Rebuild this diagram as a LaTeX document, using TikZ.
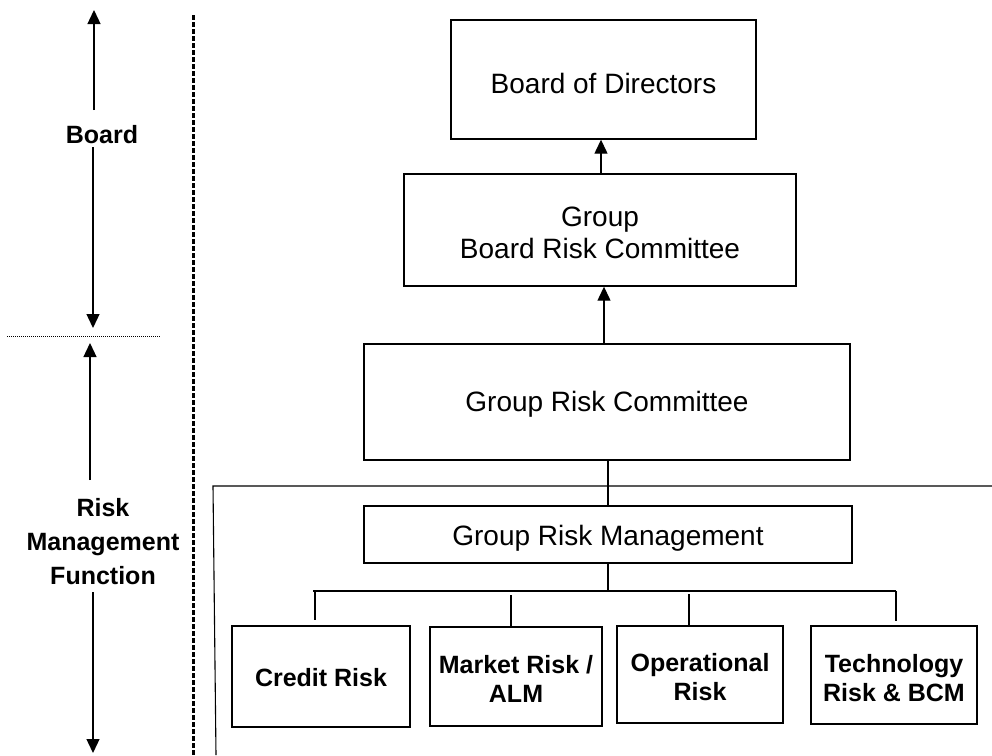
\documentclass[tikz,border=0pt]{standalone}
\usepackage{fontspec}
\setmainfont{Liberation Sans}
\usetikzlibrary{arrows.meta,calc}
\begin{document}
\begin{tikzpicture}[x=1pt,y=-1pt,
 box/.style={draw, line width=1.4pt, inner sep=0pt},
 txt/.style={align=center, inner sep=0pt, font=\fontsize{28}{32}\selectfont},
 btxt/.style={align=center, inner sep=0pt, font=\fontsize{25}{29}\selectfont\bfseries},
 arr/.style={line width=1.3pt, -{Triangle[length=14pt,width=13pt]}},
 conn/.style={line width=1.3pt},
 thinline/.style={line width=1.1pt},
 lbl/.style={align=center, font=\fontsize{25}{34}\selectfont\bfseries, inner sep=0pt}]
\useasboundingbox (0,0) rectangle (992,755);

% main boxes
\node[box, minimum width=305pt, minimum height=119pt] (bod) at (603.5,79.5) {};
\node[txt] (bodt) at ($(bod.center)+(0,4)$) {Board of Directors};
\node[box, minimum width=392pt, minimum height=112pt] (gbrc) at (600,230) {};
\node[txt] (gbrct) at ($(gbrc.center)+(0,3)$) {Group\\Board Risk Committee};
\node[box, minimum width=486pt, minimum height=116pt] (grc) at (607,402) {};
\node[txt] (grct) at ($(grc.center)+(0,2)$) {Group Risk Committee};
\node[box, minimum width=488pt, minimum height=57pt] (grm) at (608,534.5) {};
\node[txt] (grmt) at ($(grm.center)+(0,4)$) {Group Risk Management};

\node[box, minimum width=178pt, minimum height=101pt] (credit) at (321,676.5) {};
\node[btxt] (creditt) at ($(credit.center)+(0,1)$) {Credit Risk};
\node[box, minimum width=172pt, minimum height=99pt] (market) at (516,676.5) {};
\node[btxt] (markett) at ($(market.center)+(0,2)$) {Market Risk /\\ALM};
\node[box, minimum width=166pt, minimum height=97pt] (oper) at (700,674.5) {};
\node[btxt] (opert) at ($(oper.center)+(0,3)$) {Operational\\Risk};
\node[box, minimum width=166pt, minimum height=98pt] (tech) at (894,675) {};
\node[btxt] (techt) at ($(tech.center)+(0,3)$) {Technology\\Risk \& BCM};

% arrows between committees
\draw[arr] (gbrc.north -| 601,0) -- (bod.south -| 601,0);
\draw[arr] (grc.north -| 604,0) -- (gbrc.south -| 604,0);

% GRC to GRM
\draw[thinline] (grc.south -| 608,0) -- (grm.north -| 608,0);

% horizontal band line and left vertical
\coordinate (hl) at (213,486);
\coordinate (hr) at (992,486);
\coordinate (vb) at (216,755);
\draw[thinline] (hr) -- (hl) -- (vb);

% GRM to sub-units
\coordinate (barL) at (313,591);
\coordinate (barR) at (896,591);
\coordinate (barM) at (608,591);
\draw[conn] (grm.south -| barM) -- (barM);
\draw[conn] (barL) -- (barR);
\draw[conn] (315,591) -- ($(credit.north -| 315,0)+(0,-5)$);
\draw[conn] (511,595) -- (market.north -| 511,0);
\draw[conn] (689,594) -- (oper.north -| 689,0);
\draw[conn] (barR) -- ($(tech.north -| barR)+(0,-4)$);

% left column
\node[lbl] (board) at (102,135) {Board};
\coordinate (b1) at (94,110);
\coordinate (b0) at (94,10);
\coordinate (b2) at (93,147);
\coordinate (b3) at (93,328);
\draw[arr] (b1) -- (b0);
\draw[arr] (b2) -- (b3);

\coordinate (d1) at (7,336);
\coordinate (d2) at (161,336);
\draw[line width=0.9pt, dash pattern=on 1pt off 1pt] (d1) -- (d2);

\node[lbl] (rmf) at (103,542) {Risk\\Management\\Function};
\coordinate (r1) at (90,480);
\coordinate (r0) at (90,343);
\coordinate (r2) at (93,592);
\coordinate (r3) at (93,753);
\draw[arr] (r1) -- (r0);
\draw[arr] (r2) -- (r3);

% dashed separator
\coordinate (s0) at (193,15);
\coordinate (s1) at (193,755);
\draw[line width=3pt, dash pattern=on 5pt off 2pt] (s0) -- (s1);
\end{tikzpicture}
\end{document}
